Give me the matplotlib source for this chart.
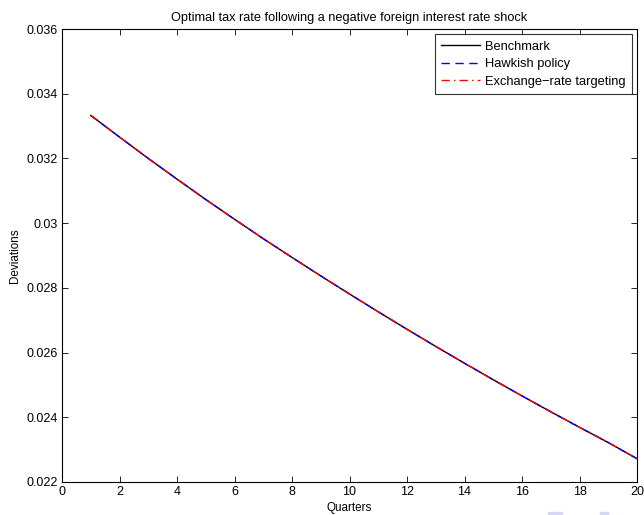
import matplotlib
matplotlib.use("Agg")
import matplotlib.pyplot as plt
from matplotlib.patches import Rectangle

quarters = list(range(1, 21))
benchmark = [0.03333, 0.03266, 0.03200, 0.03136, 0.03073, 0.03012, 0.02952, 0.02894,
             0.02837, 0.02781, 0.02726, 0.02672, 0.02619, 0.02567, 0.02516, 0.02466,
             0.02417, 0.02369, 0.02322, 0.02272]
hawkish = [0.03333, 0.03266, 0.03200, 0.03136, 0.03073, 0.03012, 0.02952, 0.02894,
           0.02837, 0.02781, 0.02726, 0.02672, 0.02619, 0.02567, 0.02516, 0.02466,
           0.02417, 0.02369, 0.02322, 0.02272]
exrate = [0.03333, 0.03266, 0.03200, 0.03136, 0.03073, 0.03012, 0.02952, 0.02894,
          0.02837, 0.02781, 0.02726, 0.02672, 0.02619, 0.02567, 0.02516, 0.02466,
          0.02417, 0.02369, 0.02322, 0.02272]
xticks = [0, 2, 4, 6, 8, 10, 12, 14, 16, 18, 20]
yticks = [0.022, 0.024, 0.026, 0.028, 0.03, 0.032, 0.034, 0.036]
ytick_labels = ["0.022", "0.024", "0.026", "0.028", "0.03", "0.032", "0.034", "0.036"]

plt.rcParams['font.family'] = ['Liberation Sans', 'DejaVu Sans']
fig = plt.figure(figsize=(6.44, 5.15), dpi=100)
ax = fig.add_axes([62/644, 1-482/515, (637-62)/644, (482-29)/515])

ax.plot(quarters, benchmark, color='black', lw=1.0, ls='-', label='Benchmark')
ax.plot(quarters, hawkish, color='blue', lw=1.0, ls=(0, (6, 4)), label='Hawkish policy')
ax.plot(quarters, exrate, color='red', lw=1.0, ls=(0, (6, 3, 1, 3)), label='Exchange\u2212rate targeting')

ax.set_xlim(0, 20)
ax.set_ylim(0.022, 0.036)
ax.set_xticks(xticks)
ax.set_xticklabels([str(t) for t in xticks])
ax.set_yticks(yticks)
ax.set_yticklabels(ytick_labels)
ax.tick_params(direction='in', top=True, right=True, labelsize=9, length=4, width=0.6, pad=3)
for s in ax.spines.values():
    s.set_linewidth(0.8)

ax.set_title('Optimal tax rate following a negative foreign interest rate shock', fontsize=9.2, pad=6)
ax.set_xlabel('Quarters', fontsize=8.4, labelpad=3)
ax.set_ylabel('Deviations', fontsize=8.4, labelpad=4)

leg = ax.legend(loc='upper right', fontsize=9.3, frameon=True, fancybox=False,
                edgecolor='black', borderpad=0.5, handlelength=3.0, handletextpad=0.4,
                labelspacing=0.42, borderaxespad=0.4)
leg.get_frame().set_linewidth(0.8)

# faint navigation marks at the bottom right
fig.patches.append(Rectangle((548/644, 0), 14/644, 3/515, transform=fig.transFigure,
                             color='#d6d6f5', zorder=0))
fig.patches.append(Rectangle((600/644, 0), 8/644, 3/515, transform=fig.transFigure,
                             color='#d6d6f5', zorder=0))

fig.savefig('out.png', dpi=100)
